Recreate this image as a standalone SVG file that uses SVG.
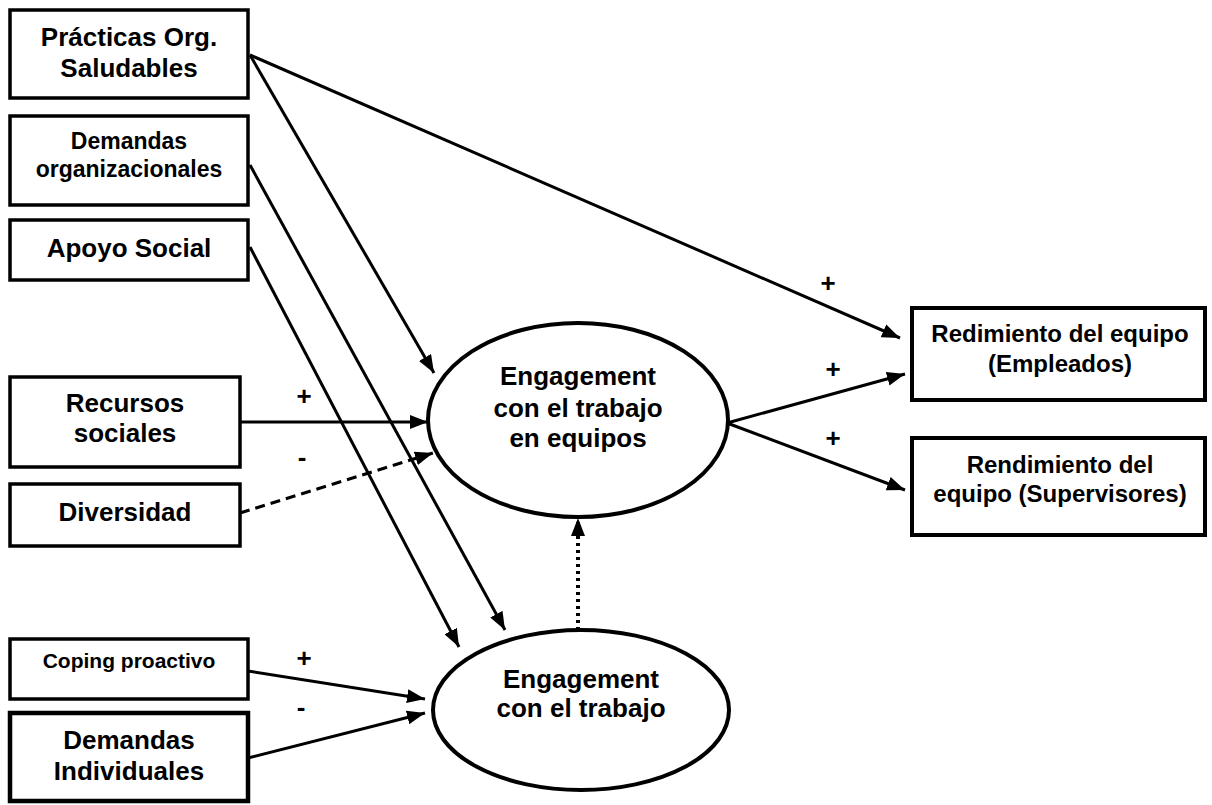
<svg xmlns="http://www.w3.org/2000/svg" width="1212" height="805" viewBox="0 0 1212 805">
  <defs>
    <marker id="arrow" viewBox="0 0 18 14" refX="18" refY="7" markerWidth="18" markerHeight="14" markerUnits="userSpaceOnUse" orient="auto">
      <path d="M0,0 L18,7 L0,14 z" fill="#000"/>
    </marker>
    <style>
      .box { fill: #fff; stroke: #000; stroke-width: 3.5; }
      .oval { fill: #fff; stroke: #000; stroke-width: 4; }
      .t { font-family: "Liberation Sans", Arial, sans-serif; font-weight: bold; fill: #000; text-anchor: middle; }
      .edge { fill: none; stroke: #000; stroke-width: 3; marker-end: url(#arrow); }
      .dash { stroke-dasharray: 10 6; }
      .dot { stroke-dasharray: 3 4; stroke-width: 4; }
      .sign { font-family: "Liberation Sans", Arial, sans-serif; font-weight: bold; font-size: 26px; fill: #000; text-anchor: middle; }
    </style>
  </defs>
  <rect width="1212" height="805" fill="#fff"/>

  <!-- predictor boxes -->
  <g id="practicas">
    <rect class="box" x="10" y="10" width="238" height="88"/>
    <text class="t" x="129" y="46" font-size="26">Prácticas Org.</text>
    <text class="t" x="129" y="77" font-size="26">Saludables</text>
  </g>
  <g id="demandas-org">
    <rect class="box" x="10" y="116" width="238" height="89"/>
    <text class="t" x="129" y="149" font-size="23">Demandas</text>
    <text class="t" x="129" y="177" font-size="23">organizacionales</text>
  </g>
  <g id="apoyo">
    <rect class="box" x="10" y="220" width="238" height="60"/>
    <text class="t" x="129" y="257" font-size="26">Apoyo Social</text>
  </g>
  <g id="recursos">
    <rect class="box" x="10" y="377" width="230" height="90"/>
    <text class="t" x="125" y="412" font-size="26">Recursos</text>
    <text class="t" x="125" y="442" font-size="26">sociales</text>
  </g>
  <g id="diversidad">
    <rect class="box" x="10" y="484" width="230" height="62"/>
    <text class="t" x="125" y="521" font-size="26">Diversidad</text>
  </g>
  <g id="coping">
    <rect class="box" x="10" y="639" width="238" height="60"/>
    <text class="t" x="129" y="668" font-size="21">Coping proactivo</text>
  </g>
  <g id="demandas-ind">
    <rect class="box" x="10" y="713" width="238" height="88" style="stroke-width:4.5"/>
    <text class="t" x="129" y="749" font-size="26">Demandas</text>
    <text class="t" x="129" y="780" font-size="26">Individuales</text>
  </g>

  <!-- latent constructs -->
  <g id="engagement-equipos">
    <ellipse class="oval" cx="578" cy="420" rx="150" ry="97"/>
    <text class="t" x="578" y="385" font-size="26">Engagement</text>
    <text class="t" x="578" y="417" font-size="26">con el trabajo</text>
    <text class="t" x="578" y="447" font-size="26">en equipos</text>
  </g>
  <g id="engagement">
    <ellipse class="oval" cx="581" cy="710" rx="148" ry="80"/>
    <text class="t" x="581" y="688" font-size="26">Engagement</text>
    <text class="t" x="581" y="717" font-size="26">con el trabajo</text>
  </g>

  <!-- outcome boxes -->
  <g id="rend-empleados">
    <rect class="box" x="912" y="308" width="293" height="92" style="stroke-width:4"/>
    <text class="t" x="1060" y="342" font-size="24">Redimiento del equipo</text>
    <text class="t" x="1060" y="372" font-size="24">(Empleados)</text>
  </g>
  <g id="rend-supervisores">
    <rect class="box" x="912" y="438" width="293" height="97" style="stroke-width:4"/>
    <text class="t" x="1060" y="473" font-size="24">Rendimiento del</text>
    <text class="t" x="1060" y="502" font-size="24">equipo (Supervisores)</text>
  </g>

  <!-- paths -->
  <g id="connectors">
    <line class="edge" x1="250" y1="55" x2="900" y2="338"/>
    <line class="edge" x1="250" y1="55" x2="434" y2="373"/>
    <line class="edge" x1="250" y1="165" x2="505" y2="630"/>
    <line class="edge" x1="250" y1="247" x2="459" y2="647"/>
    <line class="edge" x1="240" y1="422" x2="428" y2="422"/>
    <line class="edge dash" x1="240" y1="513" x2="433" y2="453"/>
    <line class="edge" x1="248" y1="671" x2="425" y2="699"/>
    <line class="edge" x1="248" y1="758" x2="425" y2="713"/>
    <line class="edge" x1="727" y1="423" x2="905" y2="374"/>
    <line class="edge" x1="727" y1="423" x2="905" y2="490"/>
    <line class="edge dot" x1="578" y1="630" x2="578" y2="518"/>
  </g>

  <!-- path signs -->
  <g id="signs">
    <text class="sign" x="828" y="292">+</text>
    <text class="sign" x="833" y="378">+</text>
    <text class="sign" x="833" y="447">+</text>
    <text class="sign" x="304" y="405">+</text>
    <text class="sign" x="302" y="466">-</text>
    <text class="sign" x="304" y="667">+</text>
    <text class="sign" x="301" y="716">-</text>
  </g>
</svg>
